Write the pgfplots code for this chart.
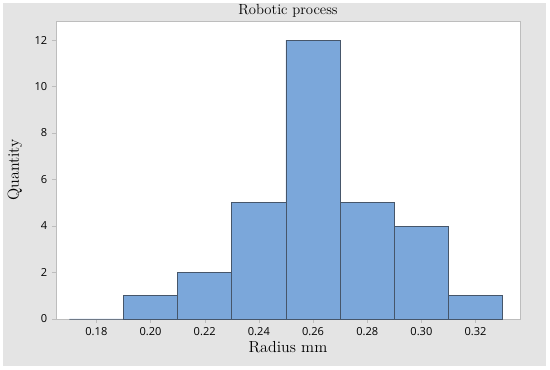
\documentclass[border=0pt]{standalone}
\usepackage{pgfplots}
\pgfplotsset{compat=1.18}
\usepackage{fontspec}
\newfontfamily\tickfont{Open Sans}
\definecolor{barfill}{HTML}{7BA7DA}
\definecolor{baredge}{HTML}{46566A}
\definecolor{panel}{HTML}{E4E4E4}
\definecolor{frame}{HTML}{BDBDBD}
\begin{document}
\begin{tikzpicture}[x=1pt,y=1pt]
\fill[white] (-42,-38.25) rectangle (370.5,239.25);
\fill[panel] (-39.75,-35.25) rectangle (367.5,237);
\begin{axis}[
  at={(0,0)}, anchor=south west,
  scale only axis, width=348pt, height=223.5pt,
  xmin=0.1651, xmax=0.3364, ymin=0, ymax=12.82,
  axis background/.style={fill=white},
  axis line style={frame},
  xtick={0.18,0.20,0.22,0.24,0.26,0.28,0.30,0.32},
  ytick={0,2,4,6,8,10,12},
  xticklabel style={font=\tickfont\fontsize{8.3}{9}\selectfont, /pgf/number format/fixed, /pgf/number format/fixed zerofill, /pgf/number format/precision=2},
  yticklabel style={font=\tickfont\fontsize{8.3}{9}\selectfont},
  /pgf/number format/assume math mode=true,
  tick align=outside, tickwidth=3pt,
  xtick pos=bottom, ytick pos=left,
  tick style={frame},
  scaled x ticks=false,
  xlabel={Radius mm},
  xlabel style={font=\fontsize{12}{13}\selectfont, at={(axis description cs:0.5,-0.094)}, anchor=center, inner sep=0pt},
  ylabel={Quantity},
  ylabel style={font=\fontsize{12}{13}\selectfont, at={(axis description cs:-0.0884,0.5)}, anchor=center, inner sep=0pt},
  clip=false,
]
\addplot[ybar interval, fill=barfill, draw=baredge, line width=0.5pt] coordinates {
  (0.17,0) (0.19,1) (0.21,2) (0.23,5) (0.25,12) (0.27,5) (0.29,4) (0.31,1) (0.33,1)
};
\node[font=\fontsize{11}{12}\selectfont, anchor=center, inner sep=0pt] at (axis description cs:0.5,1.0336) {Robotic process};
\end{axis}
\pgfresetboundingbox
\useasboundingbox (-42,-38.25) rectangle (370.5,239.25);
\end{tikzpicture}
\end{document}
